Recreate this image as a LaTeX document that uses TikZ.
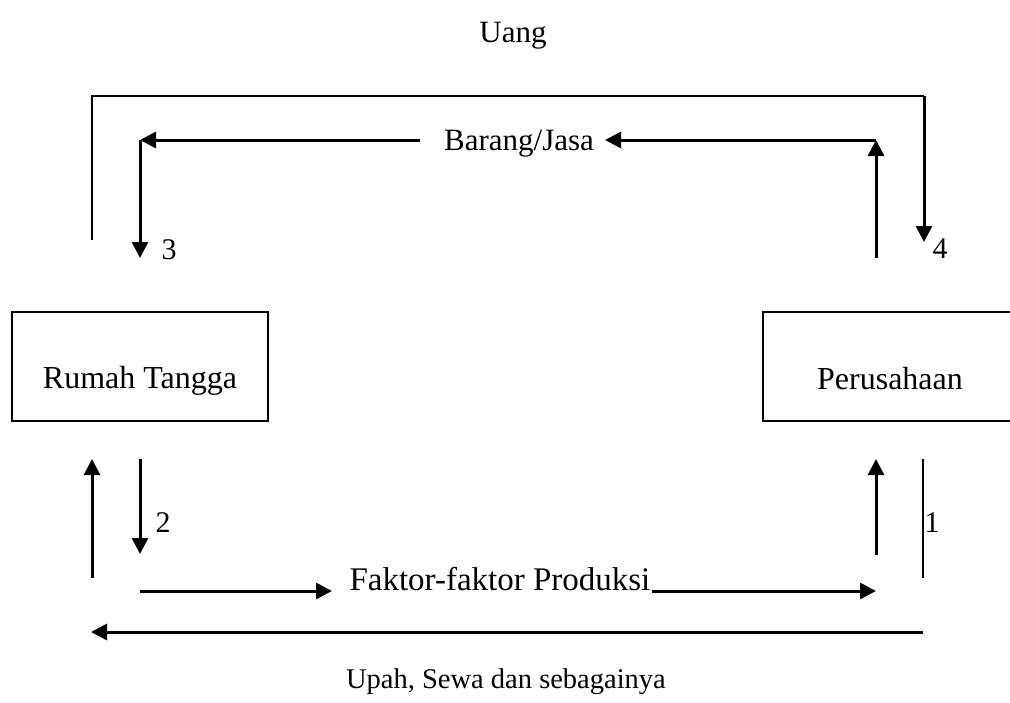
\documentclass[tikz,border=0pt]{standalone}
\usepackage{fontspec}
\setmainfont{Liberation Serif}
\usetikzlibrary{arrows.meta}
\begin{document}
\begin{tikzpicture}[x=1pt,y=-1pt,
  lbl/.style={inner sep=0pt,anchor=base,font=\fontsize{30}{36}\selectfont},
  boxnode/.style={draw,line width=2pt,minimum width=256pt,minimum height=109pt,inner sep=0pt},
  boxtext/.style={inner sep=0pt,anchor=base,font=\fontsize{32}{38}\selectfont},
  flow/.style={line width=3pt,-{Triangle[length=16pt,width=16pt]}},
  plain/.style={line width=2pt,line join=miter}]
\useasboundingbox (0,0) rectangle (1010,702);
% boxes
\node[boxnode] (rt) at (140,366) {};
\node[boxnode,minimum width=250pt] (pr) at (888,366) {};
\node[boxtext] (rtt) at (140,388) {Rumah Tangga};
\node[boxtext] (prt) at (890,389) {Perusahaan};
% labels
\node[lbl,font=\fontsize{31}{36}\selectfont] (uang) at (513,42) {Uang};
\node[lbl,font=\fontsize{31}{36}\selectfont] (barang) at (519,150) {Barang/Jasa};
\node[lbl,font=\fontsize{33}{38}\selectfont] (faktor) at (500,590) {Faktor-faktor Produksi};
\node[lbl,font=\fontsize{28.5}{34}\selectfont] (upah) at (506,688) {Upah, Sewa dan sebagainya};
\node[lbl] (n3) at (169,259) {3};
\node[lbl] (n4) at (940,258) {4};
\node[lbl] (n2) at (163,532) {2};
\node[lbl] (n1) at (932,532) {1};
% coordinates
\coordinate (ua) at (92,240);
\coordinate (ub) at (92,96);
\coordinate (uc) at (924,96);
\coordinate (ud) at (924,242);
\coordinate (ba) at (876,258);
\coordinate (bb) at (876,140);
\coordinate (bc) at (605,140);
\coordinate (bd) at (420,140);
\coordinate (be) at (140,140);
\coordinate (bf) at (140,258);
\coordinate (la) at (92,578);
\coordinate (lb) at (92,459);
\coordinate (lc) at (140,459);
\coordinate (ld) at (140,554);
\coordinate (fa) at (140,591);
\coordinate (fb) at (332,591);
\coordinate (fc) at (652,591);
\coordinate (fd) at (876,591);
\coordinate (ra) at (876,555);
\coordinate (rb) at (876,459);
\coordinate (sa) at (923,459);
\coordinate (sb) at (923,578);
\coordinate (ta) at (923,632);
\coordinate (tb) at (91,632);
% Uang loop
\draw[plain] (ua) -- (ub) -- (uc);
\draw[flow] (uc) -- (ud);
% Barang/Jasa
\draw[flow] (ba) -- (bb);
\draw[flow] (bb) -- (bc);
\draw[flow] (bd) -- (be);
\draw[flow] (be) -- (bf);
% bottom
\draw[flow] (la) -- (lb);
\draw[flow] (lc) -- (ld);
\draw[flow] (fa) -- (fb);
\draw[flow] (fc) -- (fd);
\draw[flow] (ra) -- (rb);
\draw[plain] (sa) -- (sb);
\draw[flow] (ta) -- (tb);
\end{tikzpicture}
\end{document}
